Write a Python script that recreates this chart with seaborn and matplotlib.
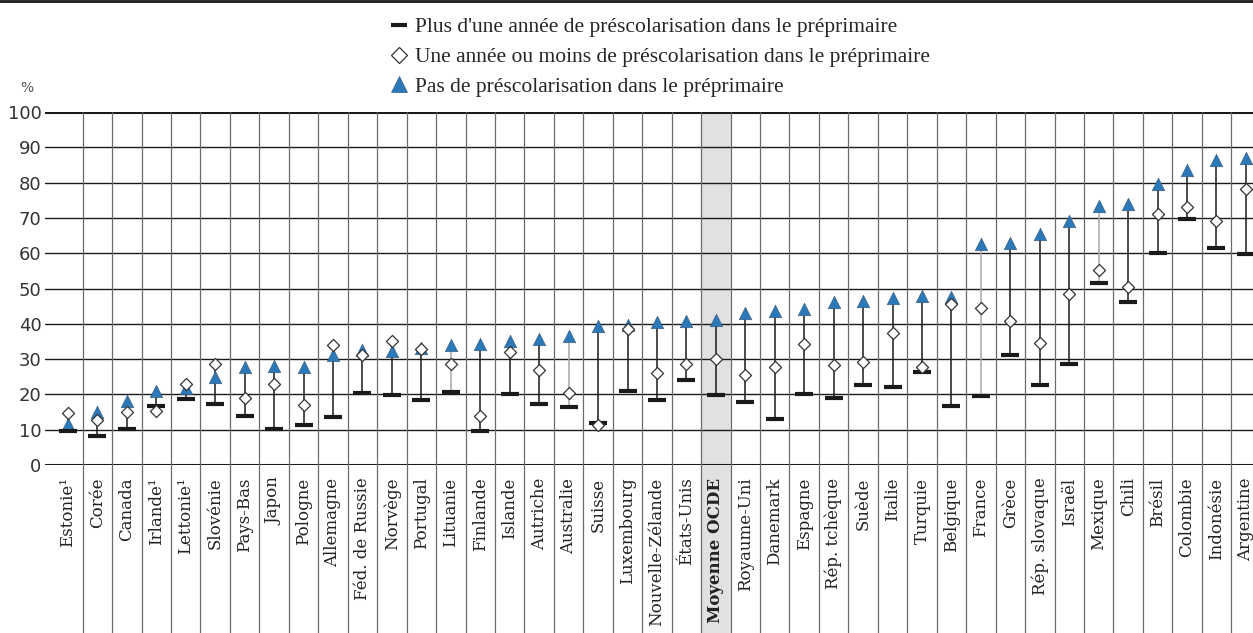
import matplotlib
matplotlib.use('Agg')
import matplotlib.pyplot as plt
import matplotlib.patches as mpatches
from matplotlib.lines import Line2D
import numpy as np
import pandas as pd
import seaborn as sns

# ==================== Données ====================
pays = ['Estonie¹', 'Corée', 'Canada', 'Irlande¹', 'Lettonie¹', 'Slovénie', 'Pays-Bas',
        'Japon', 'Pologne', 'Allemagne', 'Féd. de Russie', 'Norvège', 'Portugal',
        'Lituanie', 'Finlande', 'Islande', 'Autriche', 'Australie', 'Suisse',
        'Luxembourg', 'Nouvelle-Zélande', 'États-Unis', 'Moyenne OCDE', 'Royaume-Uni',
        'Danemark', 'Espagne', 'Rép. tchèque', 'Suède', 'Italie', 'Turquie', 'Belgique',
        'France', 'Grèce', 'Rép. slovaque', 'Israël', 'Mexique', 'Chili', 'Brésil',
        'Colombie', 'Indonésie', 'Argentine']

# Plus d'une année de préscolarisation
plus_un_an = [9.7, 8.3, 10.2, 16.7, 18.6, 17.2, 13.9, 10.2, 11.2, 13.5,
              20.4, 19.9, 18.3, 20.8, 9.6, 20.2, 17.2, 16.5, 11.9, 20.9,
              18.3, 24.0, 19.8, 17.9, 13.0, 20.2, 19.1, 22.8, 22.0, 26.4,
              16.6, 19.5, 31.3, 22.7, 28.7, 51.6, 46.1, 60.1, 69.6, 61.5, 59.9]

# Une année ou moins
un_an_ou_moins = [14.8, 12.7, 14.9, 15.2, 23.0, 28.5, 19.0, 22.9, 17.1, 33.9,
                  31.2, 35.0, 32.9, 28.7, 13.9, 32.0, 26.8, 20.4, 11.3, 38.6,
                  26.1, 28.7, 30.0, 25.4, 27.8, 34.3, 28.2, 29.2, 37.5, 27.9,
                  45.6, 44.4, 40.8, 34.6, 48.4, 55.2, 50.3, 71.2, 73.1, 69.1, 78.1]

# Pas de préscolarisation
pas_de_prescol = [11.5, 15.0, 18.2, 20.9, 21.8, 24.9, 27.9, 28.1, 27.9, 31.3,
                  32.6, 32.4, 33.2, 34.1, 34.3, 35.0, 35.6, 36.5, 39.3, 39.8,
                  40.6, 40.7, 41.0, 43.2, 43.5, 44.2, 46.3, 46.5, 47.4, 47.8,
                  47.6, 62.7, 62.9, 65.5, 69.0, 73.3, 73.9, 79.6, 83.7, 86.5, 87.1]

# pays dont le trait vertical est gris
trait_gris = ['Lituanie', 'Australie', 'France', 'Mexique']
moyenne = 'Moyenne OCDE'

df = pd.DataFrame({
    'pays': pays,
    'pos': np.arange(len(pays)),
    'plus': plus_un_an,
    'un': un_an_ou_moins,
    'pas': pas_de_prescol,
})
df['bas'] = df[['plus', 'un', 'pas']].min(axis=1)
df['haut'] = df[['plus', 'un', 'pas']].max(axis=1)

# ==================== Style ====================
sns.set_theme(style='white')
plt.rcParams['font.family'] = ['DejaVu Serif']

BLEU = '#2b79b9'
NOIR = '#1a1a1a'

fig = plt.figure(figsize=(12.53, 6.33), dpi=100)
ax = fig.add_axes([45 / 1253, 1 - 465 / 633, 1 - 45 / 1253, (465 - 112) / 633])

ax.set_xlim(-0.78, 40.24)
ax.set_ylim(0, 100)

# bande grise de la moyenne
ax.add_patch(mpatches.Rectangle((df.loc[df.pays == moyenne, 'pos'].iloc[0] - 0.5, -48), 1, 148,
                                facecolor='#e1e1e1', edgecolor='none', zorder=0, clip_on=False))

# quadrillage horizontal
for v in range(10, 100, 10):
    ax.axhline(v, color=NOIR, lw=1.0, zorder=1)
ax.axhline(0, color=NOIR, lw=2.2, zorder=1)
ax.axhline(100, color=NOIR, lw=2.2, zorder=1)

# séparateurs verticaux (jusqu'en bas, entre les libellés)
ax.vlines(df['pos'][:-1] + 0.5, -48, 100, color='#6b6b6b', lw=0.9, zorder=1, clip_on=False)

# traits verticaux min-max
couleurs = ['#a8a8a8' if p in trait_gris else NOIR for p in df['pays']]
ax.vlines(df['pos'], df['bas'], df['haut'], color=couleurs, lw=1.1, zorder=2)

# marqueurs
sns.scatterplot(data=df, x='pos', y='pas', marker='^', s=80, color=BLEU,
                edgecolor='#3c5f80', linewidth=0.5, zorder=3, ax=ax, legend=False)
sns.scatterplot(data=df, x='pos', y='plus', marker='_', s=150, color=NOIR,
                linewidth=3.0, zorder=4, ax=ax, legend=False)
sns.scatterplot(data=df, x='pos', y='un', marker='D', s=38, color='white',
                edgecolor='#333333', linewidth=0.9, zorder=5, ax=ax, legend=False)

# axes
for s in ax.spines.values():
    s.set_visible(False)
ax.set_xlabel('')
ax.set_ylabel('')
ax.set_yticks(range(0, 101, 10))
ax.tick_params(axis='y', length=0, pad=2.5, labelsize=13, labelcolor='#333333')
for lab in ax.get_yticklabels():
    lab.set_fontfamily('DejaVu Sans')
ax.set_xticks(df['pos'])
ax.set_xticklabels(df['pays'], rotation=90, fontsize=12, color='#222222')
ax.tick_params(axis='x', length=0, pad=9)
for lab in ax.get_xticklabels():
    if lab.get_text() == moyenne:
        lab.set_fontweight('bold')

fig.text(27 / 1253, 1 - 88 / 633, '%', fontsize=10, color='#555555',
         ha='center', va='center', family='DejaVu Sans')

# ligne noire en haut
fig.add_artist(Line2D([0, 1], [0.998, 0.998], color=NOIR, lw=2, transform=fig.transFigure))

# légende
handles = [
    Line2D([], [], marker='_', ls='none', color=NOIR, markersize=11, markeredgewidth=3),
    Line2D([], [], marker='D', ls='none', markerfacecolor='white', markeredgecolor='#333333',
           markersize=8, markeredgewidth=0.9),
    Line2D([], [], marker='^', ls='none', color=BLEU, markeredgecolor='#3c5f80',
           markersize=11, markeredgewidth=0.5),
]
labels = ["Plus d'une année de préscolarisation dans le préprimaire",
          'Une année ou moins de préscolarisation dans le préprimaire',
          'Pas de préscolarisation dans le préprimaire']
fig.legend(handles, labels, loc='upper left', bbox_to_anchor=(371 / 1253, 1 + 2 / 633),
           frameon=False, handlelength=0.8, handletextpad=0.35, labelspacing=0.45,
           prop={'family': 'Liberation Serif', 'size': 15.5})

plt.savefig('out.png', dpi=100)
